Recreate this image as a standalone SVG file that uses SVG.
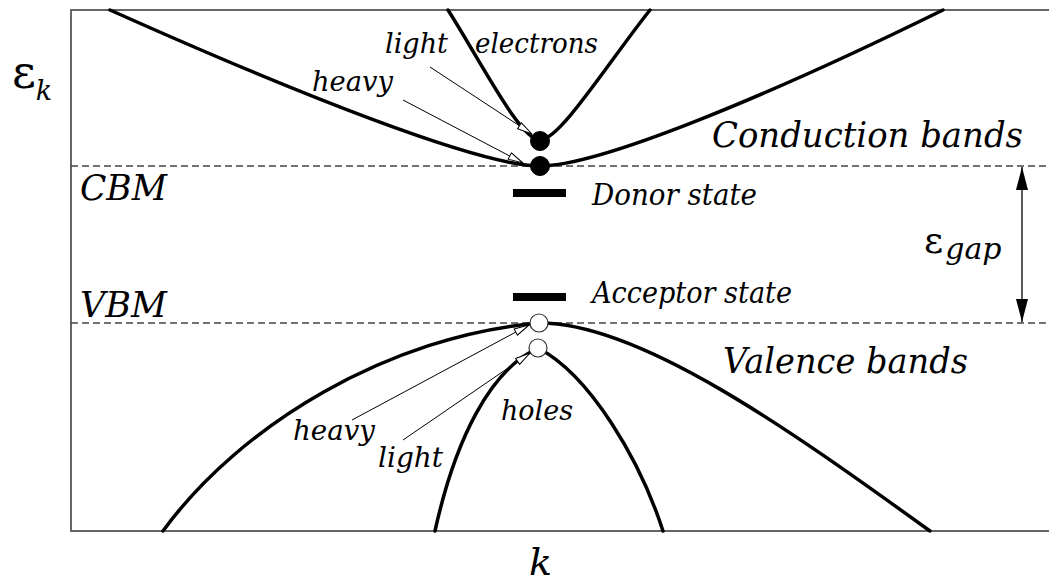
<svg xmlns="http://www.w3.org/2000/svg" width="1049" height="584" viewBox="0 0 1049 584">
<defs>
<style>
.frame{fill:none;stroke:#666;stroke-width:2}
.dash{fill:none;stroke:#444;stroke-width:1.4;stroke-dasharray:7,4}
.band{fill:none;stroke:#000;stroke-width:3.5;stroke-linecap:round}
.lead{fill:none;stroke:#000;stroke-width:1;marker-end:url(#open)}
.gap{fill:none;stroke:#000;stroke-width:1.3;marker-start:url(#solidS);marker-end:url(#solidE)}
.lab{font-style:italic;fill:#000}
.sym{font-style:normal;fill:#000}
.ebar{fill:#000}
.edot{fill:#000;stroke:#000;stroke-width:1}
.hdot{fill:#fff;stroke:#333;stroke-width:1.2}
</style>
<marker id="open" markerUnits="userSpaceOnUse" markerWidth="18" markerHeight="10" refX="16" refY="4.5" orient="auto">
<path d="M1,1 L16,4.5 L1,8 z" fill="#fff" stroke="#000" stroke-width="1"/>
</marker>
<marker id="solidE" markerUnits="userSpaceOnUse" markerWidth="24" markerHeight="13" refX="23" refY="6" orient="auto">
<path d="M0,0 L23,6 L0,12 z" fill="#000"/>
</marker>
<marker id="solidS" markerUnits="userSpaceOnUse" markerWidth="24" markerHeight="13" refX="0" refY="6" orient="auto">
<path d="M23,0 L0,6 L23,12 z" fill="#000"/>
</marker>
</defs>
<rect width="1049" height="584" fill="#fff"/>
<g id="axes">
<path class="frame" d="M1049,10 L71,10 L71,531 L1049,531"/>
<line class="dash" x1="71" y1="166" x2="1049" y2="166"/>
<line class="dash" x1="71" y1="323" x2="1049" y2="323"/>
</g>
<g id="conduction-bands">
<path class="band" d="M110,10 C300,95 480,166 540,166 C600,166 770,95 943,10"/>
<path class="band" d="M448,10 C480,60 520,140 540,140 C560,140 610,60 650,10"/>
</g>
<g id="valence-bands">
<path class="band" d="M163,531 C240,425 390,335 540,323 C640,323 790,430 930,531"/>
<path class="band" d="M435,531 C455,440 490,370 538,348 C590,375 640,460 663,531"/>
</g>
<g id="connectors">
<line class="lead" x1="430" y1="67" x2="532" y2="134"/>
<line class="lead" x1="403" y1="100" x2="523" y2="163"/>
<line class="lead" x1="352" y1="420" x2="529" y2="325"/>
<line class="lead" x1="403" y1="440" x2="530" y2="353"/>
<line class="gap" x1="1022" y1="167" x2="1022" y2="322"/>
</g>
<g id="electrons">
<circle class="edot" cx="540" cy="141" r="9.5"/>
<circle class="edot" cx="540" cy="166" r="9.5"/>
</g>
<g id="holes">
<circle class="hdot" cx="539" cy="323" r="9"/>
<circle class="hdot" cx="538" cy="348" r="9"/>
</g>
<g font-family="'DejaVu Serif', 'Liberation Serif', serif">
<g id="donor-state">
<rect class="ebar" x="513" y="189" width="53" height="8"/>
<text class="lab" x="592" y="205" font-size="29" textLength="165" lengthAdjust="spacingAndGlyphs">Donor state</text>
</g>
<g id="acceptor-state">
<rect class="ebar" x="513" y="293" width="53" height="8"/>
<text class="lab" x="592" y="303" font-size="29" textLength="200" lengthAdjust="spacingAndGlyphs">Acceptor state</text>
</g>
<g id="labels">
<text class="sym" x="12" y="88" font-size="46">ε<tspan class="lab" font-size="27" dy="12">k</tspan></text>
<text class="lab" x="80" y="200" font-size="36" textLength="87" lengthAdjust="spacingAndGlyphs">CBM</text>
<text class="lab" x="80" y="317" font-size="36" textLength="87" lengthAdjust="spacingAndGlyphs">VBM</text>
<text class="lab" x="385" y="53" font-size="28" textLength="63" lengthAdjust="spacingAndGlyphs">light</text>
<text class="lab" x="475" y="53" font-size="28" textLength="123" lengthAdjust="spacingAndGlyphs">electrons</text>
<text class="lab" x="312" y="91" font-size="28" textLength="81" lengthAdjust="spacingAndGlyphs">heavy</text>
<text class="lab" x="712" y="147" font-size="36" textLength="311" lengthAdjust="spacingAndGlyphs">Conduction bands</text>
<text class="sym" x="924" y="253" font-size="37">ε<tspan class="lab" font-size="30" dy="6" dx="2">gap</tspan></text>
<text class="lab" x="723" y="373" font-size="36" textLength="245" lengthAdjust="spacingAndGlyphs">Valence bands</text>
<text class="lab" x="293" y="440" font-size="28" textLength="82" lengthAdjust="spacingAndGlyphs">heavy</text>
<text class="lab" x="378" y="467" font-size="28" textLength="65" lengthAdjust="spacingAndGlyphs">light</text>
<text class="lab" x="501" y="420" font-size="28" textLength="72" lengthAdjust="spacingAndGlyphs">holes</text>
<text class="lab" x="529" y="575" font-size="38">k</text>
</g>
</g>
</svg>
